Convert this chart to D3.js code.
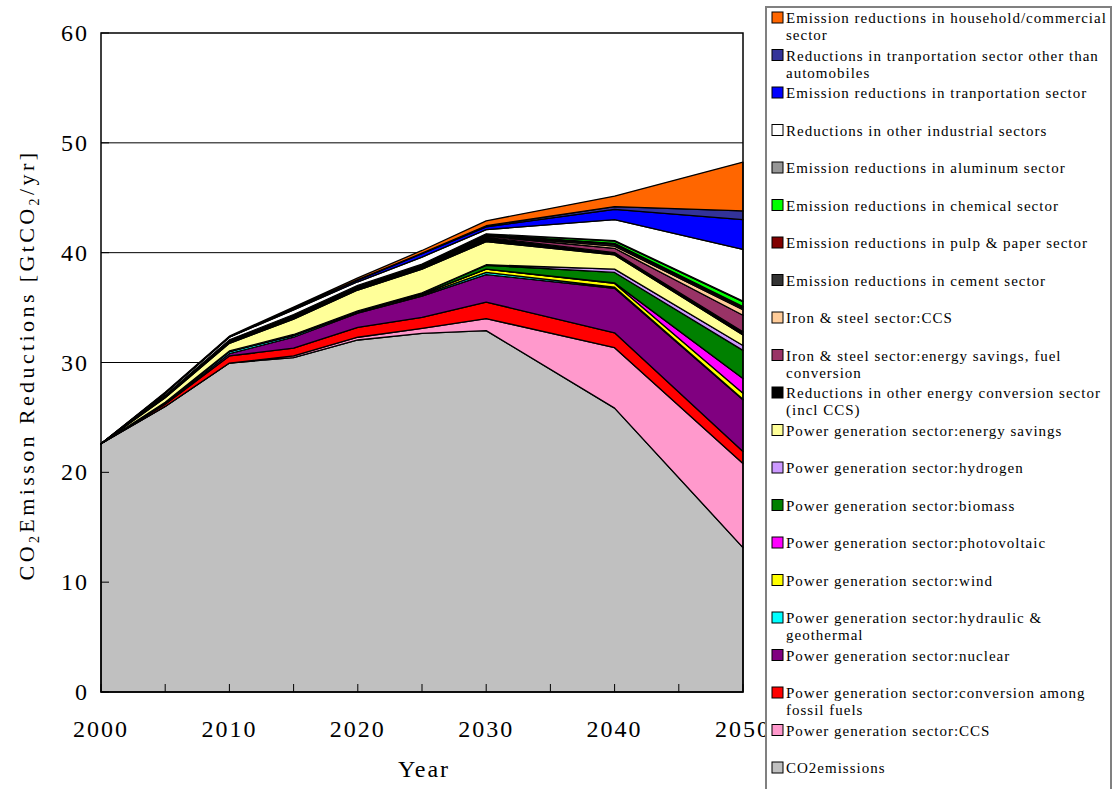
<!DOCTYPE html>
<html><head><meta charset="utf-8">
<script src="https://cdn.jsdelivr.net/npm/d3@7"></script>
<style>body{margin:0;background:#fff}</style>
</head><body>
<svg id="c" width="1117" height="789"></svg>
<script>
const years = [2000, 2005, 2010, 2015, 2020, 2025, 2030, 2040, 2050];
const xTickYears = [2000, 2005, 2010, 2015, 2020, 2025, 2030, 2035, 2040, 2045, 2050];
const xLabelYears = [2000, 2010, 2020, 2030, 2040, 2050];
const yTicks = [0, 10, 20, 30, 40, 50, 60];

// values (GtCO2/yr), bottom of stack first
const co2Emissions     = [22.6, 26.0, 29.95, 30.45, 32.05, 32.65, 32.9, 25.85, 13.15];
const pgCCS            = [0, 0, 0, 0.15, 0.25, 0.45, 1.1, 5.5, 7.65];
const pgFossilConv     = [0, 0.2, 0.65, 0.7, 0.9, 1.0, 1.5, 1.35, 1.1];
const pgNuclear        = [0, 0.05, 0.2, 1.0, 1.3, 1.95, 2.5, 4.05, 4.7];
const pgHydraulic      = [0, 0.1, 0.2, 0.15, 0.1, 0.1, 0.2, 0.1, 0.05];
const pgWind           = [0, 0, 0, 0.05, 0.05, 0.1, 0.3, 0.35, 0.55];
const pgPhotovoltaic   = [0, 0, 0, 0, 0, 0, 0, 0.05, 1.35];
const pgBiomass        = [0, 0.02, 0.05, 0.05, 0.05, 0.1, 0.35, 0.95, 2.55];
const pgHydrogen       = [0, 0, 0, 0, 0, 0, 0.05, 0.3, 0.45];
const pgEnergySavings  = [0, 0.43, 0.7, 1.4, 1.9, 2.15, 2.1, 1.3, 0.95];
const otherEnergyConv  = [0, 0.15, 0.2, 0.25, 0.25, 0.25, 0.4, 0.2, 0.3];
const ironSavings      = [0, 0.03, 0.05, 0.05, 0.05, 0.05, 0.1, 0.4, 1.5];
const ironCCS          = [0, 0, 0, 0, 0, 0, 0.05, 0.2, 0.5];
const cement           = [0, 0.02, 0.02, 0.05, 0.05, 0.05, 0.05, 0.15, 0.15];
const pulpPaper        = [0, 0.02, 0.03, 0.05, 0.05, 0.05, 0.05, 0.1, 0.15];
const chemical         = [0, 0.01, 0.01, 0.02, 0.02, 0.05, 0.05, 0.2, 0.45];
const aluminum         = [0, 0, 0, 0, 0, 0, 0.02, 0.05, 0.05];
const otherIndustrial  = [0, 0.17, 0.24, 0.43, 0.33, 0.65, 0.38, 1.9, 4.7];
const transport        = [0, 0.02, 0.03, 0.1, 0.15, 0.3, 0.25, 0.95, 2.7];
const transportOther   = [0, 0.01, 0.01, 0.02, 0.05, 0.05, 0.1, 0.25, 0.8];
const household        = [0, 0.07, 0.06, 0.13, 0.15, 0.25, 0.45, 0.95, 4.45];

const series = [
  {key:"co2", vals:co2Emissions, color:"#C0C0C0", label:["CO2emissions"]},
  {key:"pgccs", vals:pgCCS, color:"#FF99CC", label:["Power generation sector:CCS"]},
  {key:"pgconv", vals:pgFossilConv, color:"#FF0000", label:["Power generation sector:conversion among","fossil fuels"]},
  {key:"nuc", vals:pgNuclear, color:"#800080", label:["Power generation sector:nuclear"]},
  {key:"hyd", vals:pgHydraulic, color:"#00FFFF", label:["Power generation sector:hydraulic &","geothermal"]},
  {key:"wind", vals:pgWind, color:"#FFFF00", label:["Power generation sector:wind"]},
  {key:"pv", vals:pgPhotovoltaic, color:"#FF00FF", label:["Power generation sector:photovoltaic"]},
  {key:"bio", vals:pgBiomass, color:"#008000", label:["Power generation sector:biomass"]},
  {key:"h2", vals:pgHydrogen, color:"#CC99FF", label:["Power generation sector:hydrogen"]},
  {key:"sav", vals:pgEnergySavings, color:"#FFFF99", label:["Power generation sector:energy savings"]},
  {key:"oec", vals:otherEnergyConv, color:"#000000", label:["Reductions in other energy conversion sector","(incl CCS)"]},
  {key:"ises", vals:ironSavings, color:"#993366", label:["Iron & steel sector:energy savings, fuel","conversion"]},
  {key:"isccs", vals:ironCCS, color:"#FFCC99", label:["Iron & steel sector:CCS"]},
  {key:"cem", vals:cement, color:"#333333", label:["Emission reductions in cement sector"]},
  {key:"pulp", vals:pulpPaper, color:"#800000", label:["Emission reductions in pulp & paper sector"]},
  {key:"chem", vals:chemical, color:"#00FF00", label:["Emission reductions in chemical sector"]},
  {key:"alu", vals:aluminum, color:"#969696", label:["Emission reductions in aluminum sector"]},
  {key:"oind", vals:otherIndustrial, color:"#FFFFFF", label:["Reductions in other industrial sectors"]},
  {key:"trn", vals:transport, color:"#0000FF", label:["Emission reductions in tranportation sector"]},
  {key:"trno", vals:transportOther, color:"#333399", label:["Reductions in tranportation sector other than","automobiles"]},
  {key:"hh", vals:household, color:"#FF6600", label:["Emission reductions in household/commercial","sector"]}
];

const table = years.map((y,i)=>{const o={year:y}; series.forEach(s=>o[s.key]=s.vals[i]); return o;});

const svg = d3.select("#c");
const L=101, R=743, T=33, B=692;
const x = d3.scaleLinear().domain([2000,2050]).range([L,R]);
const y = d3.scaleLinear().domain([0,60]).range([B,T]);
const font = "'Liberation Serif', 'DejaVu Serif', serif";

svg.append("rect").attr("x",L).attr("y",T).attr("width",R-L).attr("height",B-T).attr("fill","#fff");

// gridlines
svg.append("g").selectAll("line").data(yTicks.filter(v=>v>0 && v<60)).join("line")
  .attr("x1",L).attr("x2",R).attr("y1",d=>y(d)).attr("y2",d=>y(d))
  .attr("stroke","#000").attr("stroke-width",1);

const stack = d3.stack().keys(series.map(s=>s.key));
const layers = stack(table);
const area = d3.area().x(d=>x(d.data.year)).y0(d=>y(d[0])).y1(d=>y(d[1]));
svg.append("g").selectAll("path").data(layers).join("path")
  .attr("d",area).attr("fill",(d,i)=>series[i].color)
  .attr("stroke","#000").attr("stroke-width",1.3).attr("stroke-linejoin","round");

// axes ticks (inward)
svg.append("g").selectAll("line").data(yTicks).join("line")
  .attr("x1",L).attr("x2",L+8).attr("y1",d=>y(d)).attr("y2",d=>y(d))
  .attr("stroke","#000").attr("stroke-width",1);
svg.append("g").selectAll("line").data(xTickYears).join("line")
  .attr("x1",d=>x(d)).attr("x2",d=>x(d)).attr("y1",B).attr("y2",B-8)
  .attr("stroke","#000").attr("stroke-width",1);

svg.append("rect").attr("x",L).attr("y",T).attr("width",R-L).attr("height",B-T)
  .attr("fill","none").attr("stroke","#000").attr("stroke-width",1.5);

// tick labels
svg.append("g").selectAll("text").data(yTicks).join("text")
  .attr("x",89).attr("y",d=>y(d)+8).attr("text-anchor","end")
  .attr("font-family",font).attr("font-size",24).attr("letter-spacing",2).text(d=>d);
svg.append("g").selectAll("text").data(xLabelYears).join("text")
  .attr("x",d=>x(d)).attr("y",737).attr("text-anchor","middle")
  .attr("font-family",font).attr("font-size",24).attr("letter-spacing",2).text(d=>d);

svg.append("text").attr("x",424).attr("y",777).attr("text-anchor","middle")
  .attr("font-family",font).attr("font-size",24).attr("letter-spacing",2).text("Year");

const yt = svg.append("text").attr("transform","translate(34,365) rotate(-90)")
  .attr("text-anchor","middle").attr("font-family",font).attr("font-size",22).attr("letter-spacing",3.4);
yt.append("tspan").text("CO");
yt.append("tspan").attr("font-size",14).attr("dy",5).text("2");
yt.append("tspan").attr("dy",-5).text("Emisson Reductions [GtCO");
yt.append("tspan").attr("font-size",14).attr("dy",5).text("2");
yt.append("tspan").attr("dy",-5).text("/yr]");

// legend
const lg = svg.append("g");
lg.append("rect").attr("x",766).attr("y",7).attr("width",345).attr("height",800)
  .attr("fill","#fff").attr("stroke","#808080").attr("stroke-width",2);
const items = series.slice().reverse();
items.forEach((s,i)=>{
  const cy = 18 + 37.5*i;
  lg.append("rect").attr("x",772).attr("y",cy-6).attr("width",11).attr("height",11)
    .attr("fill",s.color).attr("stroke","#000").attr("stroke-width",1);
  s.label.forEach((t,j)=>{
    lg.append("text").attr("x",786).attr("y",cy+5+j*17).attr("font-family",font)
      .attr("font-size",15).attr("letter-spacing",1.0).text(t);
  });
});
</script>
</body></html>
